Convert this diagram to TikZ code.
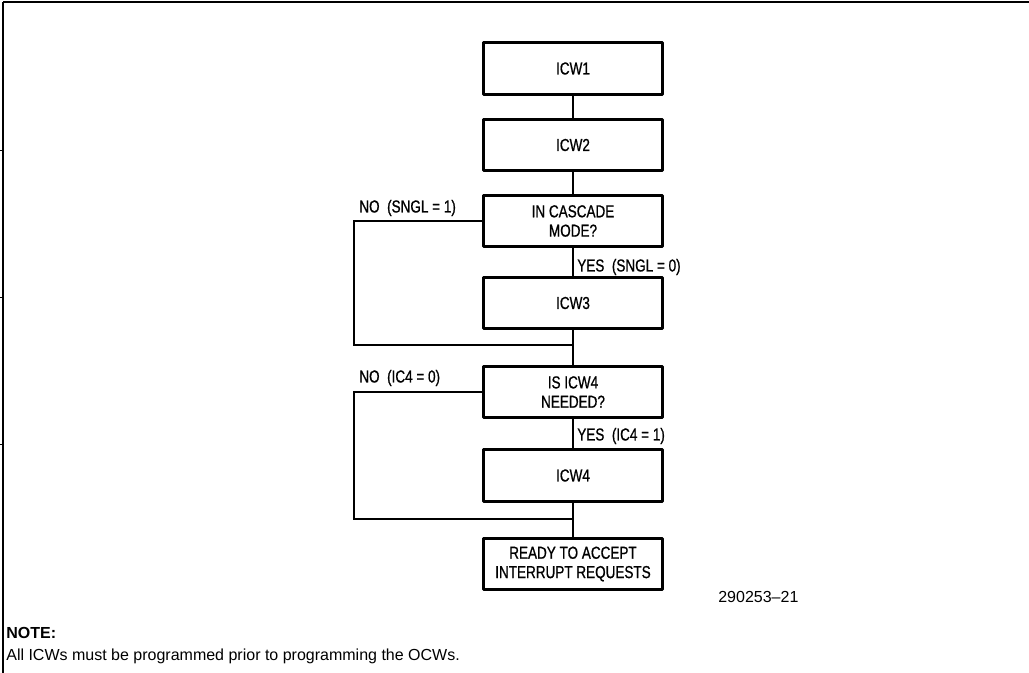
\documentclass[tikz,border=0pt]{standalone}
\usepackage{fontspec}
\setmainfont{Liberation Sans}
\newfontfamily\cadfont[FakeStretch=0.78, FakeBold=0.8]{Liberation Sans}
\usepackage{tikz}

\begin{document}
\begin{tikzpicture}[x = 0.75pt, y = -0.75pt, line width = 2pt,
                        box/.style = {rectangle, draw, line width = 2.3pt, line join = round,
                                      minimum width = 134.25pt, minimum height = 38.5pt,
                                      align = center, inner sep = 0pt,
                                      font = \cadfont\fontsize{13}{14.5}\selectfont},
                        lbl/.style = {inner sep = 0pt, anchor = west,
                                      font = \cadfont\fontsize{13}{14.5}\selectfont}]
      \useasboundingbox (0, 0) rectangle (1029, 673);

      % frame of the page
      \draw[line width = 0.9pt] (3, 2) -- (1029, 2);
      \draw[line width = 0.9pt] (3, 2) -- (3, 673);
      \foreach \y in {150, 297, 444}
        \draw[line width = 0.5pt] (0, \y) -- (3, \y);

      \node [box] (icw1) at (573, 68.5){ICW1};
      \node [box] (icw2) at (573, 145){ICW2};
      \node [box] (cascade) at (573, 221){IN CASCADE\\MODE?};
      \node [box] (icw3) at (573, 303){ICW3};
      \node [box] (needicw4) at (573, 392){IS ICW4\\NEEDED?};
      \node [box] (icw4) at (573, 475.5){ICW4};
      \node [box] (ready) at (573, 564){READY TO ACCEPT\\INTERRUPT REQUESTS};

      \coordinate (joina) at (573, 345);
      \coordinate (joinb) at (573, 519);
      \coordinate (loopa) at (354, 221);
      \coordinate (loopb) at (354, 392);

      \draw (icw1) -- (icw2);
      \draw (icw2) -- (cascade);
      \draw (cascade) -- (icw3);
      \draw (cascade.west) -- (loopa) |- (joina);
      \draw (icw3) -- (joina) -- (needicw4);
      \draw (needicw4) -- (icw4);
      \draw (needicw4.west) -- (loopb) |- (joinb);
      \draw (icw4) -- (joinb) -- (ready);

      \node [lbl] (nocascade) at (358, 208){NO\ \ (SNGL = 1)};
      \node [lbl] (yescascade) at (576, 267){YES\ \ (SNGL = 0)};
      \node [lbl] (noicw4) at (358, 378){NO\ \ (IC4 = 0)};
      \node [lbl] (yesicw4) at (576, 436){YES\ \ (IC4 = 1)};

      \node [inner sep = 0pt, anchor = west, font = \fontsize{12}{14}\selectfont] (figno) at (717, 597){290253\textendash21};
      \node [inner sep = 0pt, anchor = west, font = \bfseries\fontsize{12}{14}\selectfont] (notehead) at (5, 633){NOTE:};
      \node [inner sep = 0pt, anchor = west, font = \fontsize{12}{14}\selectfont] (notetext) at (5, 656){All ICWs must be programmed prior to programming the OCWs.};
      \end{tikzpicture}
\end{document}
